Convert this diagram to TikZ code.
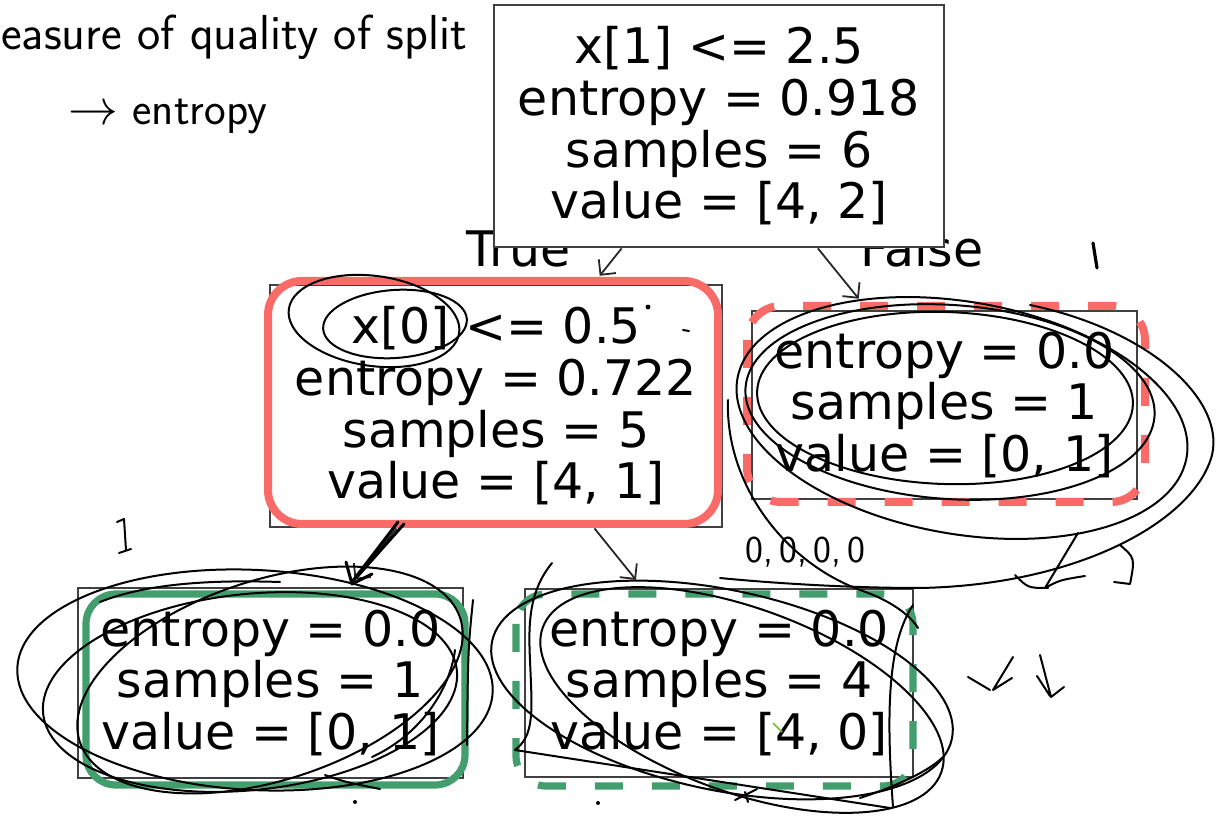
\documentclass[tikz,border=0pt]{standalone}
\usepackage{fontspec}
\newfontfamily\treefont{DejaVu Sans}
\usetikzlibrary{arrows.meta,calc,positioning}
\definecolor{splitred}{RGB}{250,106,102}
\definecolor{leafgreen}{RGB}{66,158,108}
\definecolor{tickgreen}{RGB}{120,190,50}

\begin{document}
\begin{tikzpicture}[x=0.5pt,y=-0.5pt,>={Straight Barb[length=5.5pt,width=11pt]},
  treebox/.style={draw=black!75,line width=1.4pt,fill=white,inner sep=0pt,align=center,
    font=\treefont\fontsize{24.5}{25.8}\selectfont},
  lbl/.style={font=\treefont\fontsize{24.5}{25.8}\selectfont,inner sep=0pt,anchor=base},
  edge/.style={->,black!85,line width=0.9pt},
  redframe/.style={splitred,line width=4pt,rounded corners=17pt},
  greenframe/.style={leafgreen,line width=3.6pt,rounded corners=15pt},
  dashframe/.style={dash pattern=on 14pt off 14.5pt},
  hand/.style={black,line width=1pt,line cap=round,line join=round},
  handtext/.style={font=\sffamily\fontsize{23}{28}\selectfont,inner sep=0pt,anchor=base west}]
  \useasboundingbox (0,0) rectangle (1220,822);

  % split labels, half hidden by the root box
  \node[lbl] (truelbl) at (519,267) {True};
  \node[lbl] (falselbl) at (922,267) {False};

  % the tree
  \node[treebox,minimum width=225pt,minimum height=121pt] (root) at (719,126)
    {x[1] <= 2.5\\entropy = 0.918\\samples = 6\\value = [4, 2]};
  \node[treebox,minimum width=226pt,minimum height=121pt] (left) at (496,406)
    {x[0] <= 0.5\\entropy = 0.722\\samples = 5\\value = [4, 1]};
  \node[treebox,minimum width=192.5pt,minimum height=94pt] (right) at (944.5,405)
    {entropy = 0.0\\samples = 1\\value = [0, 1]};
  \node[treebox,minimum width=192.5pt,minimum height=95pt] (leafa) at (270.5,683)
    {entropy = 0.0\\samples = 1\\value = [0, 1]};
  \node[treebox,minimum width=194pt,minimum height=94pt] (leafb) at (719,683)
    {entropy = 0.0\\samples = 4\\value = [4, 0]};

  \draw[edge,shorten >=5pt] (root) -- (left);
  \draw[edge,shorten >=7pt] (root) -- (right);
  \draw[edge,shorten >=4.5pt] (left) -- (leafa);
  \draw[edge,shorten >=5pt] (left) -- (leafb);

  % coloured frames
  \draw[redframe] (268,281) rectangle (718,524);
  \draw[redframe,dashframe] (747,306) rectangle (1145,502);
  \draw[greenframe] (86,594) rectangle (465,785);
  \draw[greenframe,dashframe] (516,594) rectangle (913,786);

  % handwritten notes
  \node[handtext,font=\sffamily\fontsize{24.6}{28}\selectfont] (heading) at (1,50) {easure of quality of split};
  \node[handtext] (crit) at (68,125) {$\to$ entropy};
  \node[handtext,font=\sffamily\fontsize{19}{24}\selectfont] (zeros) at (745,563) {0,\,0,\,0,\,0};
  \draw[hand,line width=1.6pt] (1093,243) -- (1097,268);
  \draw[hand] (117,522) -- (124,519) -- (126,550) (119,553) -- (131,549);

  % loops round x[0]
  \draw[hand,rotate around={-8:(374,321)}] (374,321) ellipse [x radius=86,y radius=45];
  \draw[hand,rotate around={4:(395,324)}] (395,324) ellipse [x radius=72,y radius=34];
  \fill (648,307) circle (1.2pt);
  \draw[hand] (683,330) -- (689,331);

  % arrow gone over by hand
  \draw[hand,line width=1.5pt] (398,522) -- (352,582) (404,524) -- (356,578)
    (346,562) -- (352,584) -- (372,574);

  % loops round the right leaf
  \draw[hand,rotate around={-4:(950,402)}] (950,402) ellipse [x radius=205,y radius=97];
  \draw[hand,rotate around={-10:(962,418)}] (962,418) ellipse [x radius=228,y radius=116];
  \draw[hand,rotate around={-2:(945,398)}] (945,398) ellipse [x radius=188,y radius=86];
  \draw[hand] (1030,305) .. controls (1150,330) and (1225,400) .. (1212,455)
    .. controls (1195,520) and (1080,585) .. (920,588)
    .. controls (840,588) and (760,582) .. (720,578);
  \draw[hand] (728,400) .. controls (725,480) and (780,560) .. (860,590)
    .. controls (890,600) and (910,615) .. (918,628);

  % small arrows
  \draw[hand] (1078,533) -- (1045,588) .. controls (1060,580) .. (1085,576);
  \draw[hand] (1015,575) .. controls (1028,588) .. (1048,588);
  \draw[hand] (1120,545) .. controls (1135,558) .. (1130,584) -- (1114,582);
  \draw[hand] (1013,657) -- (993,690) -- (1012,678) (968,677) -- (990,690);
  \draw[hand] (1040,655) -- (1051,697) -- (1064,687) (1037,676) -- (1050,696);

  % loops round the first leaf
  \draw[hand,rotate around={-3:(255,680)}] (255,680) ellipse [x radius=238,y radius=110];
  \draw[hand,rotate around={6:(250,692)}] (250,692) ellipse [x radius=208,y radius=98];
  \draw[hand,rotate around={18:(270,680)}] (270,680) ellipse [x radius=200,y radius=100];
  \draw[hand] (100,602) .. controls (150,582) and (220,580) .. (280,582);
  \draw[hand] (325,775) .. controls (345,782) .. (380,789);
  \draw[hand] (473,600) .. controls (468,650) .. (467,745);
  \draw[hand] (372,757) .. controls (420,735) and (450,690) .. (455,650);

  % loops round the second leaf
  \draw[hand,rotate around={-12:(722,690)}] (722,690) ellipse [x radius=235,y radius=100];
  \draw[hand,rotate around={-20:(742,700)}] (742,700) ellipse [x radius=212,y radius=92];
  \draw[hand] (552,563) .. controls (530,590) and (528,620) .. (530,660)
    .. controls (532,710) and (535,735) .. (515,750) -- (890,808);
  \draw[hand] (913,605) .. controls (890,640) and (885,700) .. (893,807);
  \draw[hand] (860,798) .. controls (900,785) and (930,770) .. (943,757);
  \draw[hand] (735,800) -- (757,789) (745,792) -- (748,802);
  \fill (598,803) circle (1pt) (355,802) circle (1pt);
  \draw[tickgreen,line width=0.8pt] (773,723) -- (782,732);
\end{tikzpicture}
\end{document}
